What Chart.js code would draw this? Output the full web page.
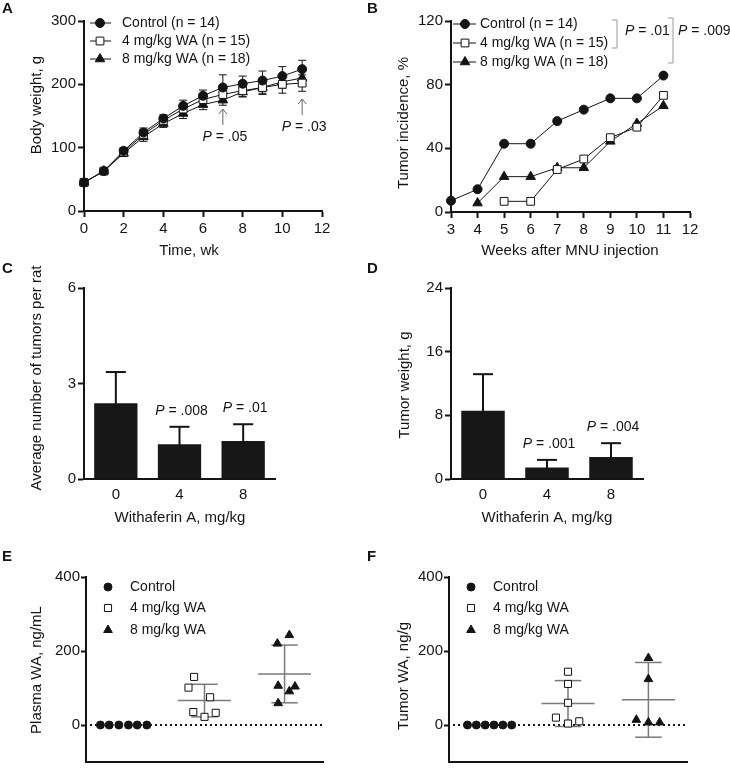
<!DOCTYPE html>
<html>
<head>
<meta charset="utf-8">
<script src="https://cdn.jsdelivr.net/npm/chart.js@4.4.1/dist/chart.umd.min.js"></script>
<style>
  body { margin: 0; background: #fff; width: 730px; height: 768px; position: relative; overflow: hidden; }
  canvas { position: absolute; }
</style>
</head>
<body>
<canvas id="chartA"></canvas>
<canvas id="chartB"></canvas>
<canvas id="chartC"></canvas>
<canvas id="chartD"></canvas>
<canvas id="chartE"></canvas>
<canvas id="chartF"></canvas>
<script>
// ---- data ----
const legendA = ['Control (n = 14)', '4 mg/kg WA (n = 15)', '8 mg/kg WA (n = 18)'];
const groupNames = ['Control', '4 mg/kg WA', '8 mg/kg WA'];

// A: body weight by week
const weeksA = [0, 1, 2, 3, 4, 5, 6, 7, 8, 9, 10, 11];
const ctrlA = [45, 63, 95, 124, 146, 166, 182, 195, 201, 206, 213, 224];
const wa4A  = [45, 63, 93, 121, 143, 161, 176, 184, 190, 195, 200, 202];
const wa8A  = [45, 63, 91, 117, 138, 154, 168, 175, 188, 195, 204, 210];
const ctrlSdA = [4, 4, 5, 7, 6, 9, 9, 20, 12, 15, 15, 14];
const wa4SdA  = [4, 4, 5, 7, 6, 9, 9, 11, 9, 11, 14, 13];
const wa8SdA  = [4, 4, 5, 7, 6, 8, 8, 8, 8, 9, 10, 12];

// B: tumor incidence (%)
const weeksB = [3, 4, 5, 6, 7, 8, 9, 10, 11];
const ctrlB = [7.1, 14.3, 42.9, 42.9, 57.1, 64.3, 71.4, 71.4, 85.7];
const wa4B  = [null, null, 6.7, 6.7, 26.7, 33.3, 46.7, 53.3, 73.3];
const wa8B  = [null, 5.6, 22.2, 22.2, 27.8, 27.8, 44.4, 55.6, 66.7];

// C, D: bar charts
const doses = ['0', '4', '8'];
const tumorsPerRat = [2.38, 1.09, 1.19];
const tumorsPerRatSd = [0.98, 0.55, 0.53];
const tumorsP = [null, ' = .008', ' = .01'];
const tumorWeight = [8.57, 1.44, 2.77];
const tumorWeightSd = [4.6, 0.96, 1.73];
const weightP = [null, ' = .001', ' = .004'];

// E: plasma WA (x = group position with jitter)
const plasmaCtrlX = [0.70, 0.81, 0.93, 1.05, 1.16, 1.28];
const plasmaCtrlY = [0, 0, 0, 0, 0, 0];
const plasma4X = [1.87, 1.80, 2.07, 1.86, 2.00, 2.14];
const plasma4Y = [130, 101, 75, 35, 22, 33];
const plasma8X = [2.91, 3.06, 2.92, 3.06, 3.13, 2.92];
const plasma8Y = [220, 243, 106, 91, 104, 59];
const plasmaMean = [66, 138];
const plasmaSd = [44, 78];

// F: tumor WA
const tumorCtrlX = [0.75, 0.86, 0.97, 1.08, 1.19, 1.30];
const tumorCtrlY = [0, 0, 0, 0, 0, 0];
const tumor4X = [2.00, 2.00, 2.00, 1.85, 2.00, 2.14];
const tumor4Y = [144, 111, 60, 20, 4, 10];
const tumor8X = [3.00, 3.00, 2.85, 3.00, 3.14];
const tumor8Y = [181, 124, 14, 7, 7];
const tumorMean = [58, 68];
const tumorSd = [62, 101];

const scatterGroups = [2, 3];
const waTicks = [0, 200, 400];

// ---- styling ----
const FONT = '"Liberation Sans", Arial, sans-serif';
const INK = '#141414';
const marks = [
  { s: 'circle', r: 4.5, fill: INK },
  { s: 'rect', r: 5.5, fill: '#fff' },
  { s: 'triangle', r: 5.5, fill: INK }
];
const smallMarks = [
  { s: 'circle', r: 4, fill: INK },
  { s: 'rect', r: 5, fill: '#fff' },
  { s: 'triangle', r: 5, fill: INK }
];

function mark(ctx, m, x, y) {
  ctx.beginPath();
  if (m.s === 'circle') {
    ctx.arc(x, y, m.r, 0, Math.PI * 2);
  } else if (m.s === 'rect') {
    const h = m.r * Math.SQRT1_2;
    ctx.rect(x - h, y - h, 2 * h, 2 * h);
  } else {
    let a = 0;
    ctx.moveTo(x + Math.sin(a) * m.r, y - Math.cos(a) * m.r);
    a += 2 * Math.PI / 3;
    ctx.lineTo(x + Math.sin(a) * m.r, y - Math.cos(a) * m.r);
    a += 2 * Math.PI / 3;
    ctx.lineTo(x + Math.sin(a) * m.r, y - Math.cos(a) * m.r);
    ctx.closePath();
  }
  ctx.fillStyle = m.fill;
  ctx.strokeStyle = INK;
  ctx.lineWidth = 1;
  ctx.fill();
  ctx.stroke();
}

function text(ctx, s, x, y, align, size) {
  ctx.font = (size || 15) + 'px ' + FONT;
  ctx.fillStyle = INK;
  ctx.textAlign = align || 'center';
  ctx.textBaseline = 'middle';
  ctx.fillText(s, x, y);
}

function vTitle(ctx, s, x, y) {
  ctx.save();
  ctx.translate(x, y);
  ctx.rotate(-Math.PI / 2);
  text(ctx, s, 0, 0, 'center', 15);
  ctx.restore();
}

function panelLabel(ctx, s, x, y) {
  ctx.font = 'bold 15px ' + FONT;
  ctx.fillStyle = INK;
  ctx.textAlign = 'left';
  ctx.textBaseline = 'alphabetic';
  ctx.fillText(s, x, y);
}

// italic P followed by the rest
function pText(ctx, x, y, rest, align) {
  ctx.textBaseline = 'middle';
  ctx.textAlign = 'left';
  ctx.fillStyle = INK;
  ctx.font = 'italic 14px ' + FONT;
  const w1 = ctx.measureText('P').width;
  ctx.font = '14px ' + FONT;
  const w2 = ctx.measureText(rest).width;
  const sx = align === 'left' ? x : x - (w1 + w2) / 2;
  ctx.font = 'italic 14px ' + FONT;
  ctx.fillText('P', sx, y);
  ctx.font = '14px ' + FONT;
  ctx.fillText(rest, sx + w1, y);
}

function seg(ctx, x1, y1, x2, y2) {
  ctx.beginPath();
  ctx.moveTo(x1, y1);
  ctx.lineTo(x2, y2);
  ctx.stroke();
}

function yAxis(min, max, step, tl, pad) {
  return {
    type: 'linear', min: min, max: max,
    ticks: { stepSize: step, font: { family: FONT, size: 15 }, color: INK, padding: pad },
    grid: { drawOnChartArea: false, tickLength: tl, tickColor: INK, tickWidth: 2 },
    border: { color: INK, width: 2 }
  };
}

function lineSet(xs, ys, m) {
  return {
    data: xs.map((x, i) => ({ x: x, y: ys[i] })).filter(p => p.y !== null),
    borderColor: INK, borderWidth: 1, tension: 0, clip: false,
    pointStyle: m.s, pointRadius: m.r, pointHoverRadius: m.r,
    pointBackgroundColor: m.fill, pointBorderColor: INK, pointBorderWidth: 1
  };
}

function scatterSet(xs, ys, m) {
  return {
    data: xs.map((x, i) => ({ x: x, y: ys[i] })), clip: false,
    pointStyle: m.s, pointRadius: m.r, pointHoverRadius: m.r,
    pointBackgroundColor: m.fill, pointBorderColor: INK, pointBorderWidth: 1
  };
}

// draws in page coordinates; X and Y map data values to page pixels
function wrap(c, box, fn) {
  if (!fn) return;
  const ctx = c.ctx;
  const X = v => c.scales.x.getPixelForValue(v) + box.x;
  const Y = v => c.scales.y.getPixelForValue(v) + box.y;
  ctx.save();
  ctx.translate(-box.x, -box.y);
  fn(ctx, X, Y);
  ctx.restore();
}

function makeChart(id, box, area, type, data, scales, under, over) {
  const cv = document.getElementById(id);
  cv.width = box.w;
  cv.height = box.h;
  cv.style.left = box.x + 'px';
  cv.style.top = box.y + 'px';
  scales.y.afterFit = s => { s.width = area.l - box.x; s.paddingTop = 0; s.paddingBottom = 0; };
  scales.x.afterFit = s => { s.height = box.y + box.h - area.b; s.paddingLeft = 0; s.paddingRight = 0; };
  return new Chart(cv, {
    type: type,
    data: data,
    options: {
      responsive: false, animation: false, devicePixelRatio: 1,
      events: [],
      layout: { padding: { left: 0, bottom: 0, top: area.t - box.y, right: box.x + box.w - area.r } },
      plugins: { legend: { display: false }, tooltip: { enabled: false } },
      scales: scales
    },
    plugins: [{
      id: 'extra',
      beforeDatasetsDraw(c) { wrap(c, box, under); },
      afterDraw(c) { wrap(c, box, over); }
    }]
  });
}

// ---- A: body weight ----
const boxA = { x: 0, y: 0, w: 365, h: 262 };
const areaA = { l: 84, t: 21, r: 322, b: 211 };
makeChart('chartA', boxA, areaA, 'line',
  { datasets: [lineSet(weeksA, ctrlA, marks[0]), lineSet(weeksA, wa4A, marks[1]), lineSet(weeksA, wa8A, marks[2])] },
  { x: yAxis(0, 12, 2, 6, 3), y: yAxis(0, 300, 100, 6, 2) },
  (ctx, X, Y) => {
    ctx.strokeStyle = INK;
    ctx.lineWidth = 1;
    [[ctrlA, ctrlSdA], [wa4A, wa4SdA], [wa8A, wa8SdA]].forEach(([v, sd]) => {
      weeksA.forEach((w, i) => {
        const px = X(w);
        const t = Y(v[i] + sd[i]);
        const b = Y(v[i] - sd[i]);
        seg(ctx, px, t, px, b);
        seg(ctx, px - 4, t, px + 4, t);
        seg(ctx, px - 4, b, px + 4, b);
      });
    });
  },
  (ctx, X) => {
    panelLabel(ctx, 'A', 2, 13);
    vTitle(ctx, 'Body weight, g', 37, 105);
    text(ctx, 'Time, wk', 189, 251);
    [23, 41, 59].forEach((ly, i) => {
      ctx.strokeStyle = INK; ctx.lineWidth = 1;
      seg(ctx, 90, ly, 111, ly);
      mark(ctx, marks[i], 100, ly);
      text(ctx, legendA[i], 122, ly, 'left', 14);
    });
    ctx.strokeStyle = '#666'; ctx.lineWidth = 1;
    [[7, 109, 125, 137, ' = .05'], [11, 99, 115, 127, ' = .03']].forEach(([w, tip, bot, ty, p]) => {
      const px = X(w);
      seg(ctx, px, tip, px, bot);
      seg(ctx, px - 4, tip + 5, px, tip);
      seg(ctx, px + 4, tip + 5, px, tip);
      pText(ctx, px + 2, ty, p);
    });
  });

// ---- B: tumor incidence ----
const boxB = { x: 365, y: 0, w: 365, h: 262 };
const areaB = { l: 451, t: 21, r: 690, b: 212 };
makeChart('chartB', boxB, areaB, 'line',
  { datasets: [lineSet(weeksB, ctrlB, marks[0]), lineSet(weeksB, wa4B, marks[1]), lineSet(weeksB, wa8B, marks[2])] },
  { x: yAxis(3, 12, 1, 6, 3), y: yAxis(0, 120, 40, 6, 2) },
  null,
  (ctx) => {
    panelLabel(ctx, 'B', 367, 13);
    vTitle(ctx, 'Tumor incidence, %', 404, 123);
    text(ctx, 'Weeks after MNU injection', 570, 251);
    [24, 43, 62].forEach((ly, i) => {
      ctx.strokeStyle = INK; ctx.lineWidth = 1;
      seg(ctx, 453, ly, 476, ly);
      mark(ctx, marks[i], 465, ly);
      text(ctx, legendA[i], 480, ly, 'left', 14);
    });
    ctx.strokeStyle = '#999'; ctx.lineWidth = 1;
    seg(ctx, 612, 20, 617, 20); seg(ctx, 617, 20, 617, 48); seg(ctx, 612, 48, 617, 48);
    seg(ctx, 668, 18, 673, 18); seg(ctx, 673, 18, 673, 63); seg(ctx, 668, 63, 673, 63);
    pText(ctx, 625, 31, ' = .01', 'left');
    pText(ctx, 678, 31, ' = .009', 'left');
  });

// ---- C, D: bars ----
function barChart(id, box, area, label, values, sd, pvals, ymax, step, title, titlePos, xTitlePos) {
  const xs = {
    type: 'category',
    ticks: { font: { family: FONT, size: 15 }, color: INK, padding: 7 },
    grid: { drawOnChartArea: false, drawTicks: false },
    border: { color: INK, width: 2 }
  };
  makeChart(id, box, area, 'bar',
    { labels: doses, datasets: [{ data: values, backgroundColor: '#171717', borderWidth: 0, barPercentage: 0.68, categoryPercentage: 1 }] },
    { x: xs, y: yAxis(0, ymax, step, 6, 2) },
    null,
    (ctx, X, Y) => {
      ctx.strokeStyle = INK; ctx.lineWidth = 2;
      values.forEach((v, i) => {
        const px = X(i);
        const t = Y(v + sd[i]);
        seg(ctx, px, Y(v) + 2, px, t);
        seg(ctx, px - 10, t, px + 10, t);
        if (pvals[i]) pText(ctx, px + 2, t - 16, pvals[i]);
      });
      panelLabel(ctx, label, box.x + 2, 273);
      vTitle(ctx, title, titlePos[0], titlePos[1]);
      text(ctx, 'Withaferin A, mg/kg', xTitlePos[0], xTitlePos[1]);
    });
}
barChart('chartC', { x: 0, y: 262, w: 365, h: 273 }, { l: 84, t: 288, r: 275, b: 479 }, 'C',
  tumorsPerRat, tumorsPerRatSd, tumorsP, 6, 3, 'Average number of tumors per rat', [37, 378], [180, 518]);
barChart('chartD', { x: 365, y: 262, w: 365, h: 273 }, { l: 451, t: 288, r: 643, b: 479 }, 'D',
  tumorWeight, tumorWeightSd, weightP, 24, 8, 'Tumor weight, g', [405, 385], [547, 518]);

// ---- E, F: scatter ----
function dotChart(id, box, area, label, sets, means, sds, title, titlePos) {
  const xs = {
    type: 'linear', min: 0.52, max: 3.48,
    ticks: { display: false },
    grid: { drawOnChartArea: false, drawTicks: false },
    border: { color: INK, width: 2 }
  };
  const ys = yAxis(-100, 400, 200, 5, 1);
  ys.afterBuildTicks = s => { s.ticks = waTicks.map(v => ({ value: v })); };
  makeChart(id, box, area, 'scatter',
    { datasets: sets.map((s, i) => scatterSet(s[0], s[1], smallMarks[i])) },
    { x: xs, y: ys },
    (ctx, X, Y) => {
      const y0 = Y(0);
      ctx.strokeStyle = INK; ctx.lineWidth = 2;
      ctx.setLineDash([2, 3]);
      seg(ctx, area.l + 4, y0, area.r, y0);
      ctx.setLineDash([]);
      ctx.strokeStyle = '#7a7a7a'; ctx.lineWidth = 1.5;
      scatterGroups.forEach((g, i) => {
        const m = Y(means[i]);
        const t = Y(means[i] + sds[i]);
        const b = Y(means[i] - sds[i]);
        seg(ctx, X(g - 0.33), m, X(g + 0.33), m);
        seg(ctx, X(g), t, X(g), b);
        seg(ctx, X(g - 0.165), t, X(g + 0.165), t);
        seg(ctx, X(g - 0.165), b, X(g + 0.165), b);
      });
    },
    (ctx) => {
      panelLabel(ctx, label, box.x + 2, 561);
      vTitle(ctx, title, titlePos[0], titlePos[1]);
      [587, 608, 630].forEach((ly, i) => {
        mark(ctx, smallMarks[i], area.l + 22, ly);
        text(ctx, groupNames[i], area.l + 44, ly, 'left', 14);
      });
    });
}
dotChart('chartE', { x: 0, y: 535, w: 365, h: 233 }, { l: 86, t: 577, r: 323, b: 766 }, 'E',
  [[plasmaCtrlX, plasmaCtrlY], [plasma4X, plasma4Y], [plasma8X, plasma8Y]], plasmaMean, plasmaSd,
  'Plasma WA, ng/mL', [37, 670]);
dotChart('chartF', { x: 365, y: 535, w: 365, h: 233 }, { l: 449, t: 577, r: 687, b: 766 }, 'F',
  [[tumorCtrlX, tumorCtrlY], [tumor4X, tumor4Y], [tumor8X, tumor8Y]], tumorMean, tumorSd,
  'Tumor WA, ng/g', [404, 676]);
</script>
</body>
</html>
